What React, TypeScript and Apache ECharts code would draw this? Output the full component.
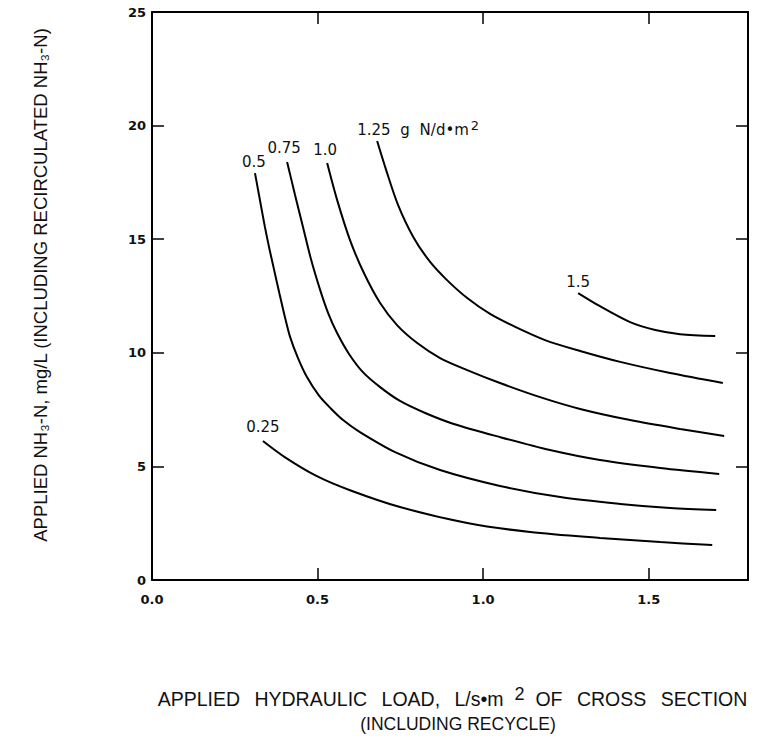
import React, { useEffect, useRef } from "react";
import * as echarts from "echarts";

// ---- data ----
const xTicks = [0, 0.5, 1.0, 1.5];
const yTicks = [0, 5, 10, 15, 20, 25];

const curveNames = ["0.25", "0.5", "0.75", "1.0", "1.25", "1.5"];

const c025: number[][] = [
  [0.335, 6.12], [0.402, 5.4], [0.498, 4.57], [0.598, 3.95], [0.749, 3.21], [0.952, 2.51],
  [1.142, 2.11], [1.353, 1.85], [1.535, 1.67], [1.692, 1.54],
];
const c050: number[][] = [
  [0.311, 17.91], [0.325, 16.8], [0.341, 15.54], [0.355, 14.55], [0.369, 13.64], [0.385, 12.6],
  [0.401, 11.6], [0.417, 10.7], [0.44, 9.8], [0.468, 8.93], [0.505, 8.1], [0.54, 7.55],
  [0.577, 7.04], [0.628, 6.51], [0.734, 5.63], [0.87, 4.84], [1.051, 4.14], [1.233, 3.65],
  [1.414, 3.35], [1.565, 3.17], [1.704, 3.08],
];
const c075: number[][] = [
  [0.408, 18.4], [0.432, 16.95], [0.456, 15.54], [0.48, 14.13], [0.508, 12.76], [0.532, 11.75],
  [0.559, 10.87], [0.595, 9.95], [0.637, 9.15], [0.689, 8.49], [0.749, 7.88], [0.825, 7.35],
  [0.909, 6.88], [1.051, 6.29], [1.202, 5.72], [1.353, 5.28], [1.535, 4.93], [1.713, 4.67],
];
const c100: number[][] = [
  [0.529, 18.35], [0.559, 16.73], [0.598, 14.96], [0.64, 13.51], [0.689, 12.19], [0.74, 11.22],
  [0.801, 10.43], [0.87, 9.77], [0.952, 9.24], [1.051, 8.67], [1.172, 8.05], [1.293, 7.53],
  [1.444, 7.04], [1.595, 6.65], [1.728, 6.34],
];
const c125: number[][] = [
  [0.68, 19.32], [0.707, 18.05], [0.743, 16.51], [0.789, 15.1], [0.84, 14.0], [0.891, 13.2],
  [0.952, 12.41], [1.021, 11.71], [1.097, 11.14], [1.187, 10.56], [1.293, 10.08], [1.414, 9.6],
  [1.565, 9.11], [1.724, 8.67],
];
const c150: number[][] = [
  [1.287, 12.63], [1.353, 12.05], [1.444, 11.35], [1.52, 11.0], [1.595, 10.82], [1.701, 10.74],
];

const curves = [c025, c050, c075, c100, c125, c150];

// ---- styling / layout (not data) ----
const labelOffsets: number[][] = [
  [0, -2], [-1, 0], [-3, -2], [-2, -2], [-20, 4], [0, 0],
];

export default function App() {
  const ref = useRef<HTMLDivElement>(null);

  useEffect(() => {
    if (!ref.current) return;
    const chart = echarts.init(ref.current, null, { renderer: "svg" });

    const labelFont = {
      fontFamily: "DejaVu Sans",
      fontSize: 15,
      color: "#111",
    };

    const series = curves.map((pts, i) => {
      const isUnit = curveNames[i] === "1.25";
      const data = pts.map((p, j) => {
        if (j !== 0) return { value: p };
        return {
          value: p,
          label: {
            show: true,
            position: "top",
            distance: 4,
            offset: labelOffsets[i],
            align: isUnit ? "left" : "center",
            formatter: isUnit ? "{b|1.25 }{b|g }{a|N/d•m}{sup|2}" : curveNames[i],
            ...labelFont,
            rich: isUnit
              ? {
                  a: { ...labelFont },
                  b: { ...labelFont, padding: [0, 5, 0, 0] },
                  sup: { ...labelFont, fontSize: 13, padding: [0, 0, 9, 2] },
                }
              : undefined,
          },
        };
      });
      return {
        type: "line",
        name: curveNames[i],
        data,
        smooth: 0.3,
        showSymbol: true,
        symbol: "circle",
        symbolSize: 0,
        itemStyle: { color: "#000" },
        label: { show: false },
        lineStyle: { color: "#000", width: 2 },
        xAxisIndex: 0,
        yAxisIndex: 0,
        z: 3,
      };
    });

    const tickFont = {
      fontFamily: "DejaVu Sans",
      fontWeight: "bold",
      fontSize: 13,
      color: "#111",
    };

    const axisLine = { show: true, onZero: false, lineStyle: { color: "#000", width: 2 } };
    const axisTick = { show: true, inside: true, length: 12, lineStyle: { color: "#000", width: 1.5 } };

    const gap = 9;
    chart.setOption({
      animation: false,
      backgroundColor: "#fff",
      grid: { left: 152, right: 21, top: 12, bottom: 158, containLabel: false },
      xAxis: [
        {
          type: "value",
          position: "bottom",
          min: xTicks[0],
          max: 1.8,
          interval: 0.5,
          axisLine,
          axisTick,
          splitLine: { show: false },
          axisLabel: {
            ...tickFont,
            margin: 13,
            formatter: (v: number) => (xTicks.includes(v) ? v.toFixed(1) : ""),
          },
        },
        {
          type: "value",
          position: "top",
          min: xTicks[0],
          max: 1.8,
          interval: 0.5,
          axisLine,
          axisTick,
          splitLine: { show: false },
          axisLabel: { show: false },
        },
      ],
      yAxis: [
        {
          type: "value",
          position: "left",
          min: yTicks[0],
          max: yTicks[yTicks.length - 1],
          interval: 5,
          axisLine,
          axisTick,
          splitLine: { show: false },
          axisLabel: { ...tickFont, margin: 6 },
        },
        {
          type: "value",
          position: "right",
          min: yTicks[0],
          max: yTicks[yTicks.length - 1],
          interval: 5,
          axisLine,
          axisTick,
          splitLine: { show: false },
          axisLabel: { show: false },
        },
      ],
      series,
      graphic: [
        {
          type: "text",
          x: 40,
          y: 285,
          rotation: Math.PI / 2,
          style: {
            text: "APPLIED NH₃-N, mg/L (INCLUDING RECIRCULATED NH₃-N)",
            fontFamily: "Liberation Sans",
            fontSize: 18.5,
            fill: "#111",
            textAlign: "center",
            textVerticalAlign: "middle",
          },
        },
        {
          type: "text",
          x: 457,
          y: 699,
          style: {
            text:
              "{a|APPLIED }{a|HYDRAULIC }{a|LOAD, }{a|L/s•m}{sup|2}{a|  OF }{a|CROSS }{a|SECTION}",
            rich: {
              a: { fontFamily: "Liberation Sans", fontSize: 19.5, fill: "#111", padding: [0, gap, 0, 0] },
              sup: { fontFamily: "Liberation Sans", fontSize: 18, fill: "#111", padding: [0, 0, 10, 2] },
            },
            textAlign: "center",
            textVerticalAlign: "middle",
          },
        },
        {
          type: "text",
          x: 458,
          y: 724,
          style: {
            text: "(INCLUDING RECYCLE)",
            fontFamily: "Liberation Sans",
            fontSize: 17.5,
            fill: "#111",
            textAlign: "center",
            textVerticalAlign: "middle",
          },
        },
      ],
    });

    return () => chart.dispose();
  }, []);

  return <div ref={ref} style={{ width: 769, height: 738, position: "absolute", left: 0, top: 0 }} />;
}
